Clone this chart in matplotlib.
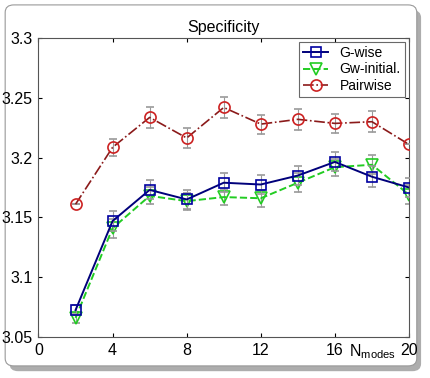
import matplotlib
matplotlib.use("Agg")
import matplotlib.pyplot as plt
from matplotlib.patches import FancyBboxPatch
from matplotlib.lines import Line2D

plt.rcParams['font.family'] = ['Liberation Sans', 'DejaVu Sans']

n_modes = [2, 4, 6, 8, 10, 12, 14, 16, 18, 20]
gwise = [3.0725, 3.147, 3.173, 3.165, 3.179, 3.1775, 3.185, 3.1964, 3.184, 3.175]
gwise_err = [0.004, 0.008, 0.008, 0.008, 0.008, 0.008, 0.008, 0.008, 0.009, 0.008]
gw_init = [3.066, 3.141, 3.168, 3.1636, 3.167, 3.166, 3.179, 3.192, 3.194, 3.169]
gw_init_err = [0.004, 0.008, 0.007, 0.007, 0.007, 0.007, 0.008, 0.007, 0.008, 0.008]
pairwise = [3.161, 3.2086, 3.2336, 3.2164, 3.2419, 3.228, 3.232, 3.2286, 3.230, 3.211]
pairwise_err = [0.0, 0.007, 0.009, 0.008, 0.009, 0.008, 0.009, 0.008, 0.009, 0.0]

xticks = [0, 4, 8, 12, 16, 20]
yticks = [3.05, 3.1, 3.15, 3.2, 3.25, 3.3]
ytick_labels = ["3.05", "3.1", "3.15", "3.2", "3.25", "3.3"]

fig = plt.figure(figsize=(4.31, 3.78), dpi=100)

# rounded frame with a drop shadow, like the screenshot
shadow = FancyBboxPatch((0.022, 0.018), 0.955, 0.955, boxstyle="round,pad=0,rounding_size=0.02",
                        transform=fig.transFigure, facecolor="#777777", edgecolor="none",
                        alpha=0.6, zorder=-2)
frame = FancyBboxPatch((0.012, 0.032), 0.955, 0.955, boxstyle="round,pad=0,rounding_size=0.02",
                       transform=fig.transFigure, facecolor="white", edgecolor="#999999",
                       linewidth=0.8, zorder=-1)
fig.patches.extend([shadow, frame])

ax = fig.add_axes([38.5 / 431, 1 - 337 / 378, (409 - 38.5) / 431, (337 - 38) / 378])
ax.set_facecolor("white")

styles = [
    dict(color="#00007a", linestyle="-", linewidth=1.4, marker="s", markersize=7,
         markerfacecolor="none", markeredgecolor="#0000a0", markeredgewidth=1.2),
    dict(color="#22cc22", linestyle="--", linewidth=1.4, marker="v", markersize=8,
         markerfacecolor="none", markeredgecolor="#22cc22", markeredgewidth=1.2),
    dict(color="#8b1a1a", linestyle="-.", linewidth=1.2, marker="o", markersize=8,
         markerfacecolor="none", markeredgecolor="#cc2222", markeredgewidth=1.2),
]
labels = ["G-wise", "Gw-initial.", "Pairwise"]

err_kw = dict(ecolor="#999999", elinewidth=0.8, capsize=3, capthick=0.8)
ax.errorbar(n_modes, gwise, yerr=gwise_err, zorder=3, **styles[0], **err_kw)
ax.errorbar(n_modes, gw_init, yerr=gw_init_err, zorder=2, **styles[1], **err_kw)
ax.errorbar(n_modes, pairwise, yerr=pairwise_err, zorder=3, **styles[2], **err_kw)

ax.set_xlim(0, 20)
ax.set_ylim(3.05, 3.3)
ax.set_xticks(xticks)
ax.set_yticks(yticks)
ax.set_yticklabels(ytick_labels)
ax.tick_params(direction="in", top=True, right=True, labelsize=11.5, length=3, pad=4)
for s in ax.spines.values():
    s.set_color("#555555")
    s.set_linewidth(0.8)

ax.set_title("Specificity", fontsize=11.5, pad=4)
ax.text(18.0, -0.018, r"N$_{\mathregular{modes}}$", transform=ax.get_xaxis_transform(),
        ha="center", va="top", fontsize=11.5)

handles = [Line2D([], [], **st) for st in styles]
leg = ax.legend(handles, labels, loc="upper right", fontsize=10, frameon=True, fancybox=False,
                edgecolor="#444444", handlelength=1.8, borderpad=0.3, labelspacing=0.15,
                borderaxespad=0.3)
leg.get_frame().set_linewidth(0.8)

fig.savefig("out.png", dpi=100)
